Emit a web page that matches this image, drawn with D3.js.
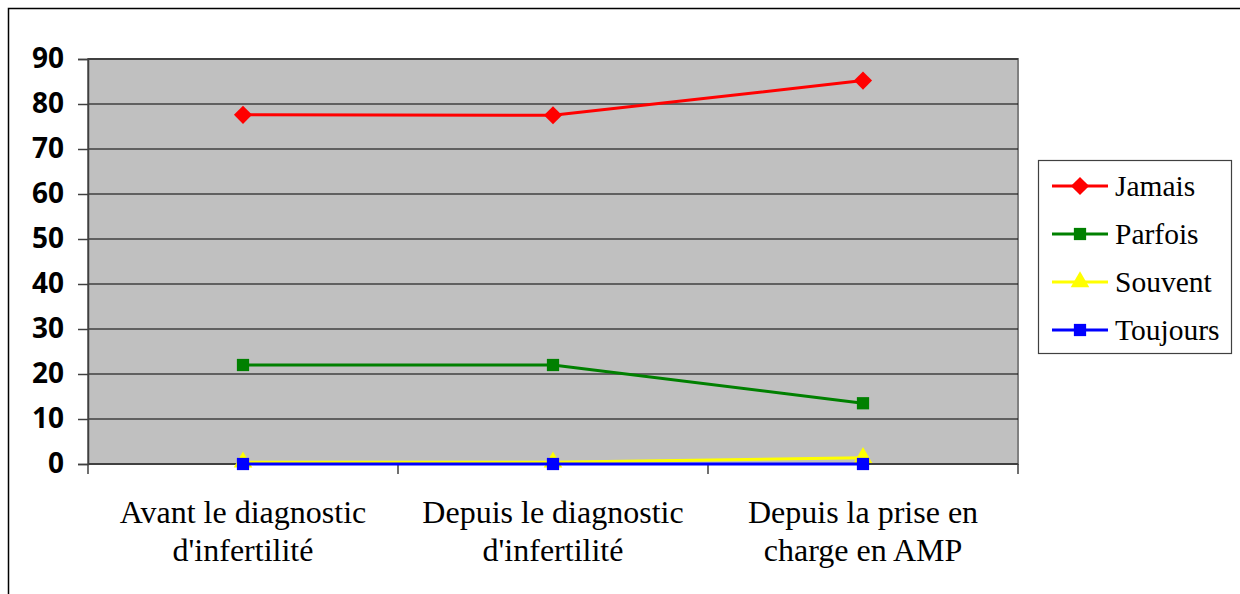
<!DOCTYPE html>
<html>
<head>
<meta charset="utf-8">
<script src="https://cdn.jsdelivr.net/npm/d3@7"></script>
<style>
  body { margin:0; background:#fff; }
  svg { display:block; }
</style>
</head>
<body>
<svg id="chart" width="1240" height="594"></svg>
<script>
// données
const categories = [["Avant le diagnostic","d'infertilité"],["Depuis le diagnostic","d'infertilité"],["Depuis la prise en","charge en AMP"]];
const seriesNames = ["Jamais","Parfois","Souvent","Toujours"];
const jamais   = [77.6, 77.5, 85.2];
const parfois  = [22.0, 22.0, 13.5];
const souvent  = [0.4, 0.4, 1.4];
const toujours = [0.0, 0.0, 0.0];
const yTicks = [0,10,20,30,40,50,60,70,80,90];

const series = [
  {name:seriesNames[0], values:jamais,   color:"#ff0000", symbol:d3.symbolDiamond2, size:210},
  {name:seriesNames[1], values:parfois,  color:"#008000", symbol:d3.symbolSquare,   size:150},
  {name:seriesNames[2], values:souvent,  color:"#ffff00", symbol:d3.symbolTriangle, size:150},
  {name:seriesNames[3], values:toujours, color:"#0000ff", symbol:d3.symbolSquare,   size:150}
];

const svg = d3.select("#chart");
const plot = {left:88, right:1018, top:59, bottom:464};

// cadre extérieur
svg.append("rect").attr("x",8.5).attr("y",8.5).attr("width",1240).attr("height",600)
   .attr("fill","none").attr("stroke","#000").attr("stroke-width",1.5);

const x = d3.scaleBand().domain(d3.range(categories.length)).range([plot.left, plot.right]);
const y = d3.scaleLinear().domain([0,90]).range([plot.bottom, plot.top]);

svg.append("rect").attr("x",plot.left).attr("y",plot.top)
   .attr("width",plot.right-plot.left).attr("height",plot.bottom-plot.top)
   .attr("fill","#c0c0c0").attr("stroke","#808080").attr("stroke-width",2);

// quadrillage
svg.append("g").selectAll("line").data(yTicks.filter(d=>d>0)).join("line")
   .attr("x1",plot.left).attr("x2",plot.right)
   .attr("y1",d=>y(d)).attr("y2",d=>y(d))
   .attr("stroke","#000").attr("stroke-width",1);

// axe Y
const yAxis = svg.append("g").attr("transform",`translate(${plot.left},0)`)
   .call(d3.axisLeft(y).tickValues(yTicks).tickSize(10).tickPadding(14));
yAxis.select(".domain").attr("stroke","#404040").attr("stroke-width",1.5);
yAxis.selectAll(".tick line").attr("stroke","#404040").attr("stroke-width",1.5);
yAxis.selectAll("text").attr("font-family","'Open Sans', sans-serif").attr("font-weight","bold")
   .attr("font-size",28).attr("fill","#000");

// axe X
const xg = svg.append("g");
xg.append("line").attr("x1",plot.left).attr("x2",plot.right).attr("y1",plot.bottom).attr("y2",plot.bottom)
   .attr("stroke","#404040").attr("stroke-width",2);
xg.selectAll("line.tk").data(d3.range(categories.length+1)).join("line").attr("class","tk")
   .attr("x1",d=>plot.left+d*x.bandwidth()).attr("x2",d=>plot.left+d*x.bandwidth())
   .attr("y1",plot.bottom).attr("y2",plot.bottom+10)
   .attr("stroke","#404040").attr("stroke-width",1.5);
const lbl = xg.selectAll("text").data(categories).join("text")
   .attr("x",(d,i)=>x(i)+x.bandwidth()/2).attr("y",523)
   .attr("text-anchor","middle").attr("font-family","'Liberation Serif', serif")
   .attr("font-size",32).attr("fill","#000");
lbl.selectAll("tspan").data(d=>d).join("tspan")
   .attr("x",function(){return this.parentNode.getAttribute("x");})
   .attr("dy",(d,i)=>i?38:0).text(d=>d);

// séries
const cx = i => x(i)+x.bandwidth()/2;
const line = d3.line().x((d,i)=>cx(i)).y(d=>y(d));
const sg = svg.append("g").selectAll("g").data(series).join("g");
sg.append("path").attr("d",d=>line(d.values)).attr("fill","none")
  .attr("stroke",d=>d.color).attr("stroke-width",3);
sg.each(function(s){
  d3.select(this).selectAll("path.m").data(s.values).join("path").attr("class","m")
    .attr("transform",(v,i)=>`translate(${cx(i)},${y(v)})`)
    .attr("d",d3.symbol(s.symbol, s.size)).attr("fill",s.color);
});

// légende
const lg = svg.append("g");
lg.append("rect").attr("x",1038.5).attr("y",160.5).attr("width",193).attr("height",193)
  .attr("fill","#fff").attr("stroke","#404040").attr("stroke-width",1.2);
const ly = d3.scalePoint().domain(seriesNames).range([186,330]);
const it = lg.selectAll("g").data(series).join("g").attr("transform",d=>`translate(0,${ly(d.name)})`);
it.append("line").attr("x1",1052).attr("x2",1108).attr("stroke",d=>d.color).attr("stroke-width",3);
it.append("path").attr("transform","translate(1080,0)")
  .attr("d",d=>d3.symbol(d.symbol, d.size)()).attr("fill",d=>d.color);
it.append("text").attr("x",1115).attr("y",10).attr("font-family","'Liberation Serif', serif")
  .attr("font-size",29.5).attr("fill","#000").text(d=>d.name);
</script>
</body>
</html>
